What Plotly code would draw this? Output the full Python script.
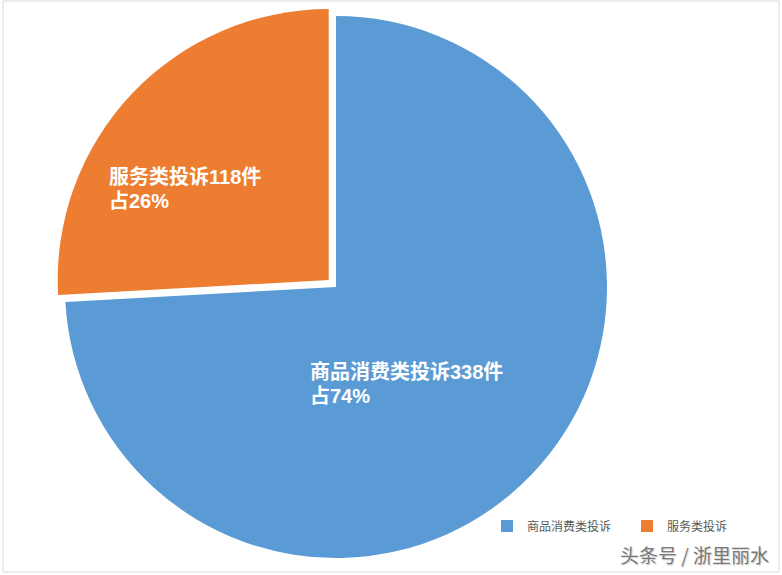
import plotly.graph_objects as go

categories = ["商品消费类投诉", "服务类投诉"]
counts = [338, 118]
shares = ["74%", "26%"]
colors = ["#5B9BD5", "#ED7D31"]

W, H = 782, 575
cx, cy, r = 336, 287, 271
pull = 0.037
box = 2 * r * (1 + pull)

LABEL_FONT = "Liberation Sans, Noto Sans CJK SC, sans-serif"

fig = go.Figure()
fig.add_trace(go.Pie(
    labels=categories,
    values=counts,
    sort=False,
    direction="clockwise",
    rotation=0,
    pull=[0, pull],
    marker=dict(colors=colors, line=dict(width=0)),
    textinfo="none",
    hoverinfo="label+value+percent",
    domain=dict(x=[(cx - box / 2) / W, (cx + box / 2) / W],
                y=[(H - cy - box / 2) / H, (H - cy + box / 2) / H]),
))

# label anchors (left x, first line centre y, second line centre y)
label_pos = [(309, 372, 396), (108, 177, 201)]
for cat, n, s, (lx, ly1, ly2) in zip(categories, counts, shares, label_pos):
    for txt, ly in ((f"<b>{cat}{n}件</b>", ly1), (f"<b>占{s}</b>", ly2)):
        fig.add_annotation(
            x=lx / W, y=1 - ly / H, xref="paper", yref="paper",
            xanchor="left", yanchor="middle", align="left", showarrow=False,
            borderpad=0, text=txt,
            font=dict(family=LABEL_FONT, size=20, color="white"),
        )

fig.add_annotation(
    x=771 / W, y=1 - 554 / H, xref="paper", yref="paper",
    xanchor="right", yanchor="middle", showarrow=False,
    text="头条号 / 浙里丽水",
    font=dict(family="Noto Sans CJK SC", size=19, color="#7a7a7a",
              shadow="1px 1px 1px #d0d0d0"),
)

fig.add_shape(type="rect", xref="paper", yref="paper",
              x0=3 / W, x1=779 / W, y0=1 - 572 / H, y1=1 - 1 / H,
              line=dict(color="#D9D9D9", width=1))

fig.update_layout(
    width=W, height=H,
    margin=dict(l=0, r=0, t=0, b=0),
    paper_bgcolor="white",
    plot_bgcolor="white",
    showlegend=True,
    legend=dict(orientation="h", x=487 / W, y=1 - 526 / H,
                xanchor="left", yanchor="middle",
                font=dict(family="Noto Sans CJK SC", size=12, color="#595959"),
                itemwidth=30, entrywidth=95, entrywidthmode="pixels",
                bgcolor="rgba(0,0,0,0)"),
)

fig.write_html("out.html", config={"displayModeBar": False},
               post_script="document.body.style.margin='0';")
